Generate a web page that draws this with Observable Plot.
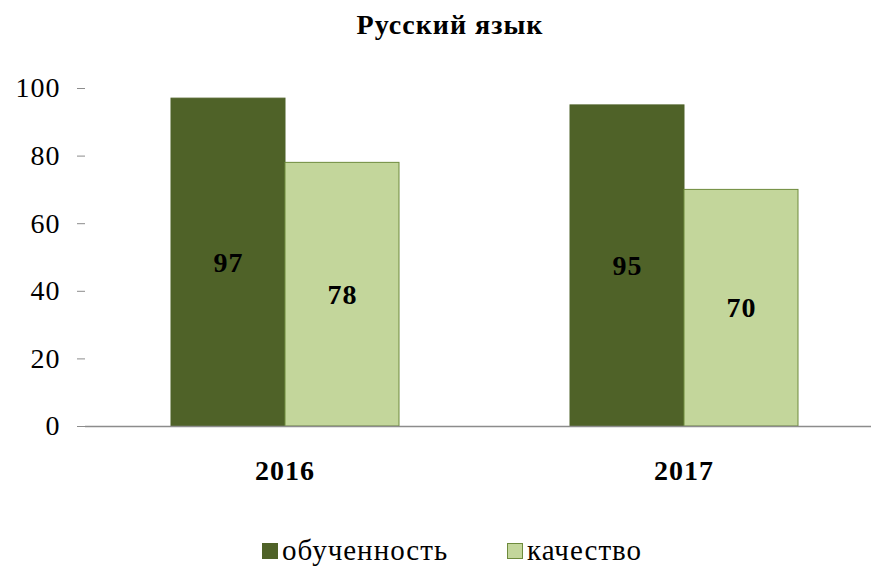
<!DOCTYPE html>
<html>
<head>
<meta charset="utf-8">
<script src="https://cdn.jsdelivr.net/npm/d3@7"></script>
<script src="https://cdn.jsdelivr.net/npm/@observablehq/plot@0.6"></script>
<style>
  body { margin: 0; background: #fff; font-family: "Liberation Serif", "Times New Roman", serif; }
  #wrap { width: 871px; height: 567px; overflow: hidden; position: relative; }
  #title { height: 50px; line-height: 50px; width: 871px; box-sizing: border-box; padding-left: 29px; text-align: center; font-weight: bold; font-size: 28px; letter-spacing: 1px; color: #000; }
  #chart { width: 871px; height: 470px; overflow: hidden; }
  #chart svg { max-width: none !important; }
  #chart svg text { letter-spacing: 1px; }
  #legend { position: relative; height: 47px; font-size: 29px; letter-spacing: 1px; color: #000; }
  .item { position: absolute; top: 16px; display: flex; align-items: center; height: 29px; }
  .sw { width: 16px; height: 16px; margin-right: 4px; box-sizing: border-box; }
</style>
</head>
<body>
<div id="wrap">
  <div id="title">Русский язык</div>
  <div id="chart"></div>
  <div id="legend"></div>
</div>
<script>
const years = ["2016", "2017"];
const seriesNames = ["обученность", "качество"];
const obuchennost = [97, 95];
const kachestvo = [78, 70];
const yTicks = [0, 20, 40, 60, 80, 100];
const colors = ["#4F6228", "#C3D69B"];
const strokes = ["#4F6228", "#6E8B3D"];

const data = [];
years.forEach((y, i) => {
  data.push({year: y, series: seriesNames[0], value: obuchennost[i]});
  data.push({year: y, series: seriesNames[1], value: kachestvo[i]});
});

const axisColor = "#8c8c8c";
const W = 883;

const chart = Plot.plot({
  width: W,
  height: 470,
  marginLeft: 85,
  marginRight: 0,
  marginTop: 38,
  marginBottom: 94,
  style: {fontFamily: "'Liberation Serif', 'Times New Roman', serif", fontSize: "28px", color: "#000", background: "#fff", maxWidth: "none"},
  fx: {domain: years, padding: 0, label: null},
  x: {domain: seriesNames, paddingInner: 0, paddingOuter: 0.75, axis: null},
  y: {domain: [0, 100], label: null},
  color: {domain: seriesNames, range: colors},
  marks: [
    Plot.barY(data, {fx: "year", x: "series", y: "value", fill: "series",
      stroke: d => strokes[seriesNames.indexOf(d.series)], strokeWidth: 1}),
    Plot.ruleY([0], {stroke: axisColor, strokeWidth: 1.5}),
    Plot.ruleX([years[0]], {fx: d => d, y1: 100, y2: 0, insetBottom: -9, dx: -(W - 85) / 4, stroke: axisColor, strokeWidth: 1.5}),
    Plot.ruleX([years[1]], {fx: d => d, y1: 0, y2: 0, insetBottom: -9, dx: -(W - 85) / 4, stroke: axisColor, strokeWidth: 1.5}),
    Plot.axisY({ticks: yTicks, tickSize: 8, tickPadding: 17, stroke: axisColor, fontSize: 28, tickFormat: d => String(d), facetAnchor: "left"}),
    Plot.axisFx({anchor: "bottom", tickSize: 0, tickPadding: 34, fontSize: 28, fontWeight: "bold", label: null}),
    Plot.text(data, {fx: "year", x: "series", y: d => d.value / 2, text: d => String(d.value), fontSize: 28, fontWeight: "bold", fill: "#000"})
  ]
});
document.getElementById("chart").appendChild(chart);

const legend = document.getElementById("legend");
const lx = [262, 507];
seriesNames.forEach((s, i) => {
  const it = document.createElement("div");
  it.className = "item";
  it.style.left = lx[i] + "px";
  const sw = document.createElement("div");
  sw.className = "sw";
  sw.style.background = colors[i];
  sw.style.border = "1px solid " + strokes[i];
  const tx = document.createElement("span");
  tx.textContent = s;
  it.appendChild(sw);
  it.appendChild(tx);
  legend.appendChild(it);
});
</script>
</body>
</html>
